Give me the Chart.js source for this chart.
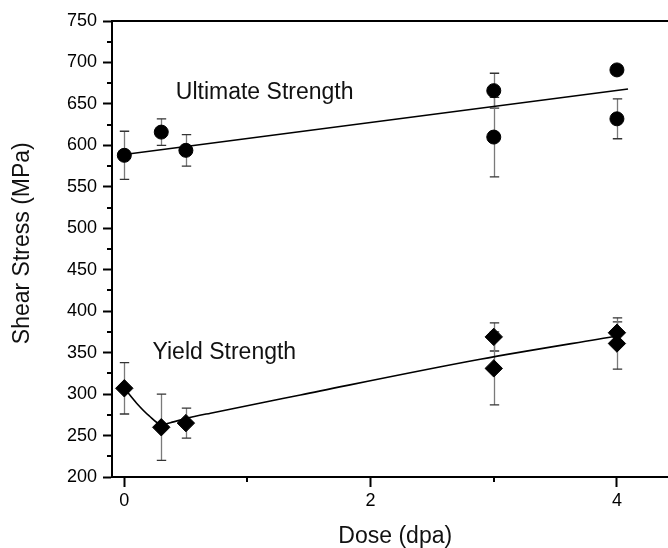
<!DOCTYPE html>
<html>
<head>
<meta charset="utf-8">
<title>Shear stress vs dose</title>
<script src="https://cdn.jsdelivr.net/npm/chart.js@4.4.1/dist/chart.umd.min.js"></script>
<style>
  html, body { margin: 0; padding: 0; background: #fff; overflow: hidden; }
  #wrap { width: 700px; height: 548px; }
</style>
</head>
<body>
<div id="wrap"><canvas id="stressChart" width="700" height="548"></canvas></div>
<script>
// measured shear strength (MPa) against dose (dpa), with error bars
const doseUlt = [0, 0.3, 0.5, 3, 3, 4, 4];
const ultimate = [588, 616, 594, 666, 610, 691, 632];
const ultimateErr = [29, 16, 19, 21, 48, 5, 24];

const doseYield = [0, 0.3, 0.5, 3, 3, 4, 4];
const yieldStress = [307, 260, 265, 369, 331, 374, 361];
const yieldErr = [31, 40, 18, 17, 44, 13, 31];

// trend lines
const ultFitDose = [0, 4.09];
const ultFit = [589, 668];
const yieldFitDose = [0, 0.1, 0.2, 0.3, 0.4, 0.5, 0.7, 1.43, 2.89, 4.0];
const yieldFit = [307, 289, 274, 263.5, 266.5, 270.5, 277, 299, 342, 370];

// axis ticks
const xTicks = [0, 2, 4];
const xMinor = [1, 3];
const yTicks = [200, 250, 300, 350, 400, 450, 500, 550, 600, 650, 700, 750];
const yMinor = [225, 275, 325, 375, 425, 475, 525, 575, 625, 675, 725];

const family = '"Liberation Sans", Arial, Helvetica, sans-serif';
Chart.defaults.font.family = family;
Chart.defaults.color = '#000';

const toPoints = (xs, ys) => xs.map((x, i) => ({ x: x, y: ys[i] }));

// error bars under the markers, frame, minor ticks and text on top
const decorations = {
  id: 'decorations',
  beforeDatasetsDraw(chart) {
    const { ctx, scales: { x, y } } = chart;
    ctx.save();
    chart.data.datasets.forEach(ds => {
      if (!ds.errors) return;
      ds.data.forEach((p, i) => {
        const px = Math.round(x.getPixelForValue(p.x)) + 0.5;
        const top = y.getPixelForValue(p.y + ds.errors[i]);
        const bot = y.getPixelForValue(p.y - ds.errors[i]);
        ctx.strokeStyle = '#7a7a7a';
        ctx.lineWidth = 1.3;
        ctx.beginPath();
        ctx.moveTo(px, top);
        ctx.lineTo(px, bot);
        ctx.stroke();
        ctx.strokeStyle = '#333';
        ctx.beginPath();
        ctx.moveTo(px - 4.7, top); ctx.lineTo(px + 4.7, top);
        ctx.moveTo(px - 4.7, bot); ctx.lineTo(px + 4.7, bot);
        ctx.stroke();
      });
    });
    ctx.restore();
  },
  afterDraw(chart) {
    const { ctx, chartArea: area, scales: { x, y } } = chart;
    ctx.save();
    ctx.strokeStyle = '#000';
    ctx.lineWidth = 2;
    ctx.beginPath();
    ctx.moveTo(area.left - 1, area.top);
    ctx.lineTo(area.right, area.top);
    ctx.lineTo(area.right, area.bottom);
    ctx.stroke();

    ctx.beginPath();
    yMinor.forEach(v => {
      const py = Math.round(y.getPixelForValue(v));
      ctx.moveTo(area.left - 5, py);
      ctx.lineTo(area.left, py);
    });
    xMinor.forEach(v => {
      const px = Math.round(x.getPixelForValue(v));
      ctx.moveTo(px, area.bottom);
      ctx.lineTo(px, area.bottom + 5);
    });
    ctx.stroke();

    ctx.fillStyle = '#111';
    ctx.font = '23px ' + family;
    ctx.textAlign = 'left';
    ctx.textBaseline = 'alphabetic';
    ctx.fillText('Ultimate Strength', x.getPixelForValue(0.418), y.getPixelForValue(655.8));
    ctx.fillText('Yield Strength', x.getPixelForValue(0.229), y.getPixelForValue(342.2));

    // y axis title, sits a little above the middle of the axis
    ctx.translate(23, y.getPixelForValue(482));
    ctx.rotate(-Math.PI / 2);
    ctx.textAlign = 'center';
    ctx.textBaseline = 'middle';
    ctx.fillText('Shear Stress (MPa)', 0, 0);
    ctx.restore();
  }
};

new Chart(document.getElementById('stressChart'), {
  type: 'scatter',
  data: {
    datasets: [
      {
        label: 'Ultimate Strength',
        data: toPoints(doseUlt, ultimate),
        errors: ultimateErr,
        pointStyle: 'circle',
        pointRadius: 7,
        backgroundColor: '#000',
        borderColor: '#000',
        borderWidth: 1
      },
      {
        label: 'Yield Strength',
        data: toPoints(doseYield, yieldStress),
        errors: yieldErr,
        pointStyle: 'rectRot',
        pointRadius: 8.7,
        backgroundColor: '#000',
        borderColor: '#000',
        borderWidth: 1
      },
      {
        label: 'Ultimate fit',
        data: toPoints(ultFitDose, ultFit),
        showLine: true,
        pointRadius: 0,
        borderColor: '#000',
        borderWidth: 1.6
      },
      {
        label: 'Yield fit',
        data: toPoints(yieldFitDose, yieldFit),
        showLine: true,
        cubicInterpolationMode: 'monotone',
        pointRadius: 0,
        borderColor: '#000',
        borderWidth: 1.6
      }
    ]
  },
  options: {
    responsive: false,
    animation: false,
    devicePixelRatio: 1,
    layout: { padding: { top: 21, right: 21.5, left: 0, bottom: 0 } },
    plugins: {
      legend: { display: false },
      tooltip: { enabled: false }
    },
    scales: {
      x: {
        type: 'linear',
        min: -0.1,
        max: 4.5,
        afterFit(scale) { scale.height = 71; },
        afterBuildTicks(scale) { scale.ticks = xTicks.map(v => ({ value: v })); },
        border: { display: true, color: '#000', width: 2 },
        grid: { drawOnChartArea: false, drawTicks: true, tickLength: 10, tickColor: '#000', tickWidth: 2 },
        ticks: { color: '#000', font: { size: 18 }, padding: 3, maxRotation: 0, autoSkip: false },
        title: {
          display: true,
          text: 'Dose (dpa)',
          color: '#111',
          font: { size: 23, lineHeight: 1 },
          padding: { top: 0, bottom: 0 }
        }
      },
      y: {
        type: 'linear',
        min: 200,
        max: 750,
        afterFit(scale) { scale.width = 112; },
        afterBuildTicks(scale) { scale.ticks = yTicks.map(v => ({ value: v })); },
        border: { display: true, color: '#000', width: 2 },
        grid: { drawOnChartArea: false, drawTicks: true, tickLength: 9, tickColor: '#000', tickWidth: 2 },
        ticks: { color: '#000', font: { size: 18 }, padding: 6, autoSkip: false }
      }
    }
  },
  plugins: [decorations]
});
</script>
</body>
</html>
